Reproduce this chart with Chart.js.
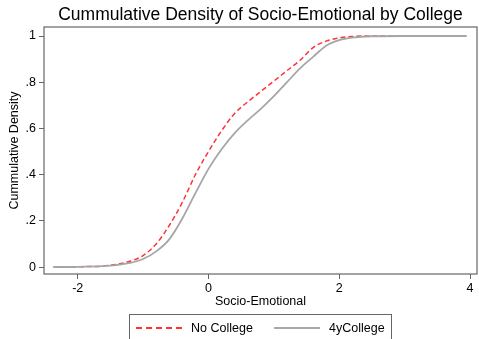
<!DOCTYPE html>
<html>
<head>
<meta charset="utf-8">
<script src="https://cdn.jsdelivr.net/npm/chart.js@4"></script>
<style>
  body{margin:0;background:#fff;font-family:"Liberation Sans",Arial,sans-serif;}
  #wrap{position:relative;width:479px;height:339px;overflow:hidden;}
  #leyenda{position:absolute;left:129px;top:314px;width:263px;height:30px;border:1px solid #666;box-sizing:border-box;
    font-size:12.5px;color:#000;}
  .item{position:absolute;top:6px;line-height:15px;}
  .muestra{display:inline-block;width:46px;vertical-align:middle;margin-right:9px;position:relative;top:-1px;}
</style>
</head>
<body>
<div id="wrap">
  <canvas id="grafico" width="479" height="339"></canvas>
  <div id="leyenda">
    <span class="item" style="left:6px"><span class="muestra" style="border-top:2px dashed #ff3333"></span>No College</span>
    <span class="item" style="left:144px"><span class="muestra" style="border-top:2px solid #aaaaaa"></span>4yCollege</span>
  </div>
</div>
<script>
const titulo = "Cummulative Density of Socio-Emotional by College";

const xNoCollege = [-2.35, -2, -1.5, -1.2, -1, -0.8, -0.6, -0.4, -0.2, 0, 0.2, 0.4, 0.6, 0.8, 1, 1.2, 1.4, 1.6, 1.8, 2, 2.2, 2.5, 2.98];
const yNoCollege = [0, 0.001, 0.008, 0.025, 0.05, 0.1, 0.18, 0.28, 0.4, 0.5, 0.59, 0.665, 0.715, 0.76, 0.805, 0.85, 0.895, 0.95, 0.978, 0.992, 0.998, 1, 1];

const x4y = [-2.38, -2, -1.5, -1.2, -1, -0.8, -0.6, -0.4, -0.2, 0, 0.2, 0.4, 0.6, 0.8, 1, 1.2, 1.4, 1.6, 1.8, 2, 2.2, 2.5, 3, 3.5, 3.95];
const y4y = [0, 0.001, 0.006, 0.018, 0.035, 0.068, 0.12, 0.21, 0.32, 0.425, 0.51, 0.58, 0.635, 0.685, 0.74, 0.8, 0.86, 0.91, 0.958, 0.982, 0.993, 0.999, 1, 1, 1];

const ticksX = [-2, 0, 2, 4];
const ticksY = [0, 0.2, 0.4, 0.6, 0.8, 1];

function puntos(xs, ys){
  return xs.map((x, i) => ({x: x, y: ys[i]}));
}

function etiquetaY(v){
  if(v === 0 || v === 1) return String(v);
  return String(Math.round(v * 10) / 10).replace("0.", ".");
}

const familia = "'Liberation Sans', Arial, sans-serif";

// marco alrededor del area y titulo centrado sobre ella
const marco = {
  id: "marco",
  afterDraw(chart){
    const a = chart.chartArea;
    const ctx = chart.ctx;
    ctx.save();
    ctx.strokeStyle = "#666";
    ctx.lineWidth = 1.2;
    ctx.strokeRect(a.left, a.top, a.right - a.left, a.bottom - a.top);
    ctx.fillStyle = "#000";
    ctx.font = "17.5px " + familia;
    ctx.textAlign = "center";
    ctx.textBaseline = "alphabetic";
    ctx.fillText(titulo, (a.left + a.right) / 2, 20);
    ctx.restore();
  }
};

const fuente = {family: familia, size: 12.5};

new Chart(document.getElementById("grafico"), {
  type: "scatter",
  data: {
    datasets: [
      {
        label: "4yCollege",
        data: puntos(x4y, y4y),
        showLine: true,
        borderColor: "#a6a6a6",
        borderWidth: 1.8,
        pointRadius: 0,
        cubicInterpolationMode: "monotone"
      },
      {
        label: "No College",
        data: puntos(xNoCollege, yNoCollege),
        showLine: true,
        borderColor: "#ff3333",
        borderWidth: 1.5,
        borderDash: [5, 3],
        pointRadius: 0,
        cubicInterpolationMode: "monotone"
      }
    ]
  },
  options: {
    responsive: false,
    animation: false,
    layout: {padding: {top: 27, right: 2}},
    plugins: {
      legend: {display: false},
      tooltip: {enabled: false},
      title: {display: false}
    },
    scales: {
      x: {
        type: "linear",
        min: -2.516,
        max: 4.107,
        afterFit(s){ s.height = 65; },
        afterBuildTicks(s){ s.ticks = ticksX.map(v => ({value: v})); },
        grid: {drawOnChartArea: false, tickLength: 5, color: "#666"},
        border: {display: false},
        ticks: {color: "#000", font: fuente, padding: 2},
        title: {display: true, text: "Socio-Emotional", color: "#000", font: fuente, padding: {top: 30, bottom: 30}}
      },
      y: {
        min: -0.03,
        max: 1.039,
        afterFit(s){ s.width = 44; },
        afterBuildTicks(s){ s.ticks = ticksY.map(v => ({value: v})); },
        grid: {drawOnChartArea: false, tickLength: 5, color: "#666"},
        border: {display: false},
        ticks: {color: "#000", font: fuente, padding: 3, callback: etiquetaY},
        title: {display: true, text: "Cummulative Density", color: "#000", font: fuente, padding: {top: 7, bottom: 7}}
      }
    }
  },
  plugins: [marco]
});
</script>
</body>
</html>
